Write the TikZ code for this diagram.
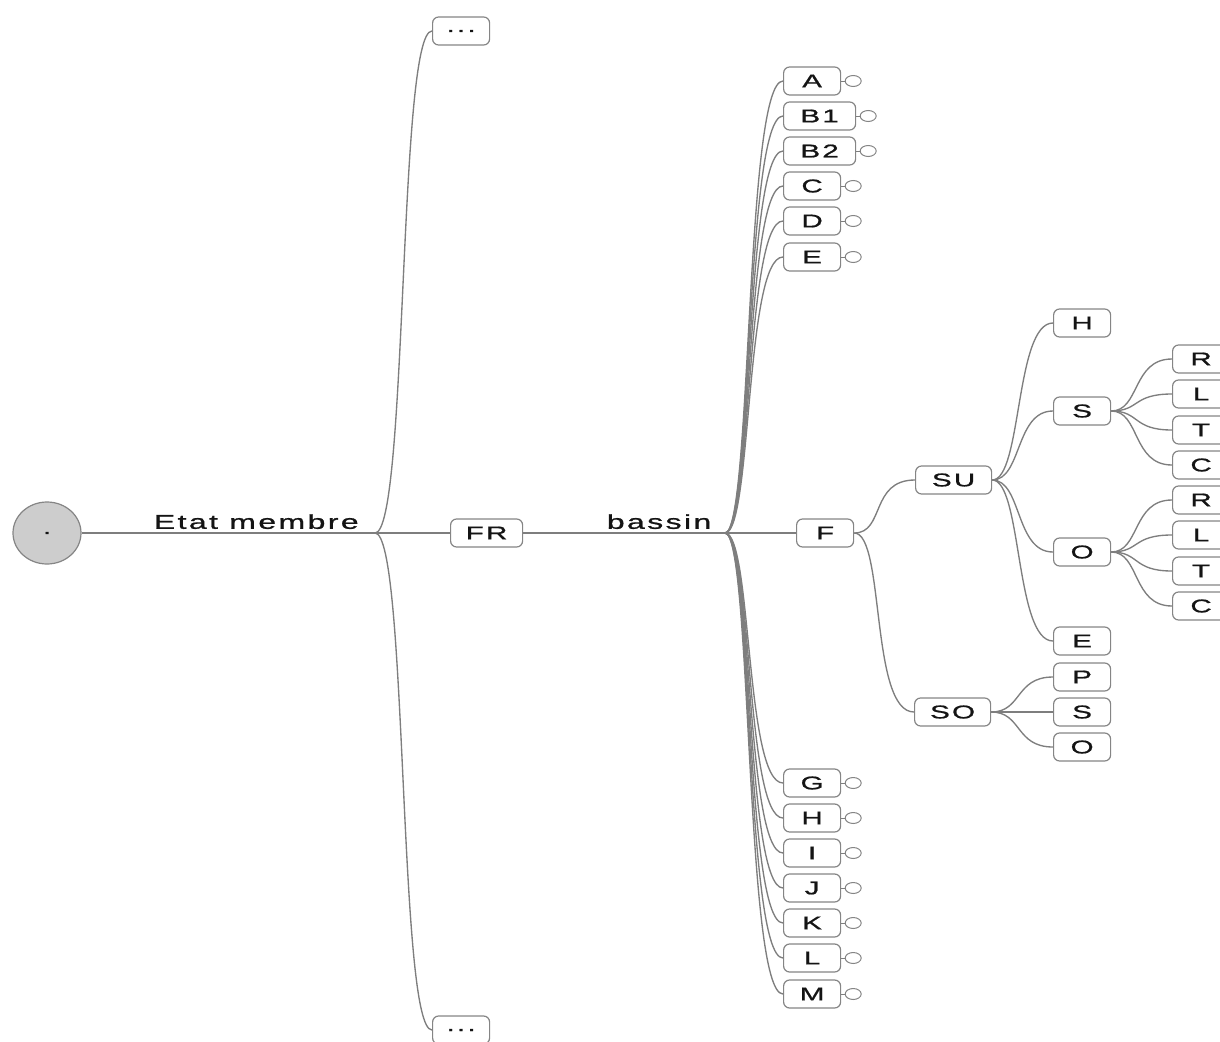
\documentclass[tikz,border=0pt]{standalone}
\usepackage{fontspec}
\setmainfont{Liberation Sans}[FakeStretch=1.6,LetterSpace=12,FakeBold=1]
\usetikzlibrary{calc,shapes.geometric}
\definecolor{edgec}{HTML}{7E7E7E}
\definecolor{boxc}{HTML}{858585}
\definecolor{txtc}{HTML}{141414}
\definecolor{rootc}{HTML}{CDCDCD}
\begin{document}
\begin{tikzpicture}[x=1pt,y=-1pt,
  every node/.style={font=\fontsize{18.5}{20}\selectfont, text=txtc},
  box/.style={draw=boxc, line width=1.2pt, rounded corners=6pt, fill=white,
    minimum width=57, minimum height=28, inner sep=1pt, anchor=west},
  wide/.style={minimum width=72},
  leafdot/.style={ellipse, draw=boxc, line width=1pt, fill=white,
    minimum width=16, minimum height=11, inner sep=0pt},
  edge/.style={draw=edgec, line width=1.35pt},
  lbl/.style={font=\fontsize{20}{22}\selectfont}]
\useasboundingbox (0,0) rectangle (1220,1041);

% root
\node[ellipse, draw=boxc, line width=1.2pt, fill=rootc, minimum width=68, minimum height=62, inner sep=0pt] (root) at (47,533) {.};
\coordinate (em) at (375,533);
\coordinate (bs) at (725,533);

\node[box] (dtop) at (432,31) {...};
\node[box] (dbot) at (432,1030) {...};
\node[box, wide] (FR) at (450,533) {FR};

\draw[edge] (root) -- (em) node[lbl, midway, above=0pt, xshift=28pt] (lEM) {Etat membre};
\draw[edge] (em) .. controls (408,533) and (398,31) .. (dtop.west);
\draw[edge] (em) .. controls (408,533) and (398,1030) .. (dbot.west);
\draw[edge] (em) -- (FR.west);
\draw[edge] (FR.east) -- (bs) node[lbl, midway, above=0pt, xshift=35pt] (lBS) {bassin};

% bassin children with leaf dots
\foreach \nm/\yy/\tx/\st in {A/81/A/box, B1/116/B1/wide, B2/151/B2/wide, C/186/C/box, D/221/D/box, E/257/E/box,
  G/783/G/box, H/818/H/box, I/853/I/box, J/888/J/box, K/923/K/box, L/958/L/box, M/994/M/box}{
  \node[box, \st] (\nm) at (783,\yy) {\tx};
  \node[leafdot] (\nm d) at ($(\nm.east)+(12,0)$) {};
  \draw[edge, line width=1pt] (\nm.east) -- (\nm d.west);
  \draw[edge] (bs) .. controls (752,533) and (745,\yy) .. (\nm.west);
}

% F subtree
\node[box] (F) at (796,533) {F};
\draw[edge] (bs) -- (F.west);
\node[box, minimum width=76] (SU) at (915,480) {SU};
\node[box, minimum width=76] (SO) at (914,712) {SO};
\draw[edge] (F.east) .. controls (885,533) and (870,480) .. (SU.west);
\draw[edge] (F.east) .. controls (885,533) and (870,712) .. (SO.west);

\foreach \nm/\yy/\tx in {uH/323/H, uS/411/S, uO/552/O, uE/641/E}{
  \node[box] (\nm) at (1053,\yy) {\tx};
  \draw[edge] (SU.east) .. controls (1022,480) and (1015,\yy) .. (\nm.west);
}
\foreach \nm/\yy/\tx in {oP/677/P, oS/712/S, oO/747/O}{
  \node[box] (\nm) at (1053,\yy) {\tx};
  \draw[edge] (SO.east) .. controls (1022,712) and (1015,\yy) .. (\nm.west);
}
\foreach \nm/\yy/\tx in {sR/359/R, sL/394/L, sT/430/T, sC/465/C}{
  \node[box] (\nm) at (1172,\yy) {\tx};
  \draw[edge] (uS.east) .. controls (1140,411) and (1132,\yy) .. (\nm.west);
}
\foreach \nm/\yy/\tx in {qR/500/R, qL/535/L, qT/571/T, qC/606/C}{
  \node[box] (\nm) at (1172,\yy) {\tx};
  \draw[edge] (uO.east) .. controls (1140,552) and (1132,\yy) .. (\nm.west);
}
\end{tikzpicture}
\end{document}
